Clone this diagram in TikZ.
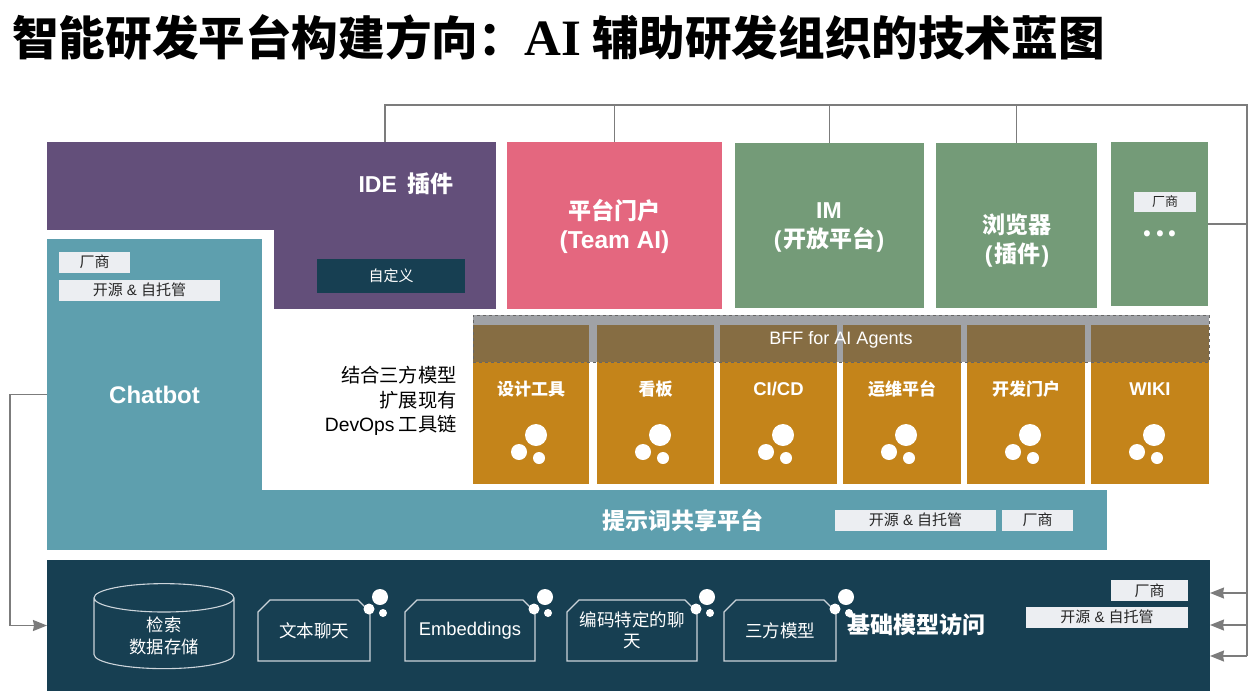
\documentclass[tikz,border=0pt]{standalone}
\usepackage{fontspec}
\setmainfont{Noto Sans CJK SC}
\newfontfamily\lat{Liberation Sans}
\newfontfamily\titlelat{Liberation Serif}
\usepackage{xcolor}
\usetikzlibrary{positioning, arrows.meta, shapes.geometric, shapes.misc}
\definecolor{idepurple}{HTML}{634F7A}
\definecolor{portalpink}{HTML}{E4677F}
\definecolor{imgreen}{HTML}{749B78}
\definecolor{botteal}{HTML}{5E9FAE}
\definecolor{toolorange}{HTML}{C4841A}
\definecolor{modeldark}{HTML}{173F52}
\definecolor{chipgrey}{HTML}{ECEEF2}
\definecolor{bffgrey}{HTML}{585C63}
\definecolor{linegrey}{HTML}{7C7C7C}
\newcommand{\fs}[1]{\fontsize{#1}{#1}\selectfont}
\newcommand{\ossname}{开源{\lat\ \&\ }自托管}

\begin{document}
\begin{tikzpicture}[
  x=1pt, y=-1pt,
  block/.style={inner sep=0pt, outer sep=0pt, text=white, align=center, font=\fs{23}\bfseries},
  chip/.style={fill=chipgrey, text=black!85, inner sep=0pt, outer sep=0pt, minimum height=21pt, font=\fs{15}},
  snip/.style={chamfered rectangle, chamfered rectangle corners={north west, north east},
    chamfered rectangle xsep=6pt, chamfered rectangle ysep=6pt, draw=chipgrey!85!modeldark,
    line width=1.1pt, text=white, align=center, inner sep=0pt, outer sep=0pt, minimum height=61pt, font=\fs{17.5}},
  collabel/.style={text=white, inner sep=0pt, font=\fs{17}\bfseries},
  link/.style={draw=linegrey, line width=1.5pt},
  feed/.style={link, -{Stealth[length=14pt, width=11pt, inset=1pt]}}
]
\useasboundingbox (0,0) rectangle (1258,694);

\node[inner sep=0pt, anchor=west, font=\fs{46.6}\bfseries] (title) at (12,37)
  {智能研发平台构建方向：{\fs{51}\titlelat AI} 辅助研发组织的技术蓝图};

% top row
\node[block, fill=idepurple, minimum width=448.5pt, minimum height=88pt, anchor=north west] (ide) at (47,142) {};
\node[block, fill=idepurple, minimum width=221.5pt, minimum height=80pt, anchor=north east] (idefoot) at (ide.south east |- 0,229) {};
\node[block] (idelabel) at (406,184) {{\lat IDE}\ \ 插件};
\node[block, fill=modeldark, minimum width=148pt, minimum height=34pt, font=\fs{15}] (custom) at (391,275.5) {自定义};
\node[block, fill=portalpink, minimum width=215pt, minimum height=167pt, anchor=north west] (portal) at (507,142) {};
\node[block] (portallabel) at (614.5,226.5) {平台门户\\[6pt]{\fs{24.5}\lat (Team AI)}};
\node[block, fill=imgreen, minimum width=189pt, minimum height=165pt, anchor=north west] (im) at (735,143) {};
\node[block] (imlabel) at (829,226.5) {{\lat IM}\vphantom{平}\\[6pt]{\lat(\kern1.5pt}开放平台{\lat\kern1.5pt)}};
\node[block, fill=imgreen, minimum width=161pt, minimum height=165pt, right=12pt of im] (browser) {};
\node[block] (browserlabel) at (1017,240.5) {浏览器\\[6pt]{\lat(\kern1.5pt}插件{\lat\kern1.5pt)}};
\node[block, fill=imgreen, minimum width=97pt, minimum height=164pt, anchor=north west] (more) at (1111,142) {};
\node[chip, minimum width=62pt, minimum height=20pt, font=\fs{13}] (vendortop) at (1165,202) {厂商};
\node[block, font=\fs{28}\bfseries] (moredots) at (1160,234) {.\kern3pt.\kern3pt.};

% tool columns
\foreach \i/\x/\w/\t in {1/473/116/设计工具, 2/597/117/看板, 3/720/117/{\fs{18.5}\lat CI/CD}, 4/843/118/运维平台, 5/967/118/开发门户, 6/1091/118/{\fs{18.5}\lat WIKI}} {
  \node[block, fill=toolorange, minimum width=\w pt, minimum height=159pt, anchor=north west] (col\i) at (\x,325) {};
  \node[collabel] (collabel\i) at ([yshift=-64pt]col\i.north) {\t};
  \fill[white] ([xshift=63pt,yshift=-110pt]col\i.north west) circle (11pt);
  \fill[white] ([xshift=46pt,yshift=-127pt]col\i.north west) circle (8pt);
  \fill[white] ([xshift=66pt,yshift=-133pt]col\i.north west) circle (6pt);
}
\node[draw=black!60, dashed, fill=bffgrey, fill opacity=.57, inner sep=0pt, outer sep=0pt,
  minimum width=736pt, minimum height=47pt, anchor=north west] (bff) at (473,315) {};
\node[text=white, inner sep=0pt, font=\fs{18}\lat] (bfflabel) at (841,339.5) {BFF for AI Agents};

\node[inner sep=0pt, align=right, anchor=east, font=\fs{19.3}] (thirdparty) at (457,401)
  {结合三方模型\\[5pt]扩展现有\\[5pt]{\lat DevOps} 工具链};

% chatbot and prompt platform
\node[block, fill=botteal, minimum width=215pt, minimum height=311pt, anchor=north west, font=\fs{24}\lat\bfseries] (chatbot) at (47,239) {Chatbot};
\node[block, fill=botteal, minimum width=846pt, minimum height=60pt, anchor=north west] (prompt) at (261,490) {};
\node[block] (promptlabel) at (683,520) {提示词共享平台};
\node[chip, minimum width=71pt, anchor=north west] (vendorbot) at (59,251.5) {厂商};
\node[chip, minimum width=161pt, below=7pt of vendorbot.south west, anchor=north west] (ossbot) {\ossname};
\node[chip, minimum width=161pt, anchor=north west] (ossprompt) at (835,509.5) {\ossname};
\node[chip, minimum width=71pt, right=6pt of ossprompt] (vendorprompt) {厂商};

% model access
\node[block, fill=modeldark, minimum width=1163pt, minimum height=131pt, anchor=north west] (model) at (47,560) {};
\node[cylinder, shape border rotate=90, shape aspect=.41, draw=chipgrey!85!modeldark, line width=1.1pt, text=white,
  align=center, inner sep=0pt, outer sep=0pt, minimum width=140pt, minimum height=85pt, font=\fs{17.3}] (store) at (164,633.5)
  {\phantom{检索}\\[5pt]\phantom{数据存储}};
\node[text=white, align=center, inner sep=0pt, font=\fs{17.3}] (storelabel) at (164,636) {检索\\[5pt]数据存储};
\node[snip, minimum width=112pt] (chat) at (314,630.5) {文本聊天};
\node[snip, minimum width=130pt, right=35pt of chat, font=\fs{18.4}\lat] (embed) {Embeddings};
\node[snip, minimum width=130pt, right=32pt of embed] (codegen) {编码特定的聊\\[4pt]天};
\node[snip, minimum width=112pt, right=27pt of codegen] (third) {三方模型};
\foreach \n in {chat, embed, codegen, third} {
  \coordinate (corner\n) at (\n.north -| \n.east);
  \fill[white] ([xshift=10pt,yshift=3pt]corner\n) circle (8pt);
  \fill[white] ([xshift=-1pt,yshift=-9pt]corner\n) circle (5.5pt);
  \fill[white] ([xshift=13pt,yshift=-13pt]corner\n) circle (4pt);
}
\node[block, font=\fs{23}\bfseries] (modellabel) at (916,625) {基础模型访问};
\node[chip, minimum width=77pt, anchor=north east] (vendormodel) at (1188,580) {厂商};
\node[chip, minimum width=162pt, anchor=north east] (ossmodel) at (1188,606.5) {\ossname};

% connectors
\coordinate (busstart) at (385,105);
\coordinate (busend) at (1247,105);
\coordinate (feedtop) at (1247,593);
\coordinate (feedmid) at (1247,625);
\coordinate (feedlow) at (1247,656);
\coordinate (loopleft) at (10,394.5);
\draw[link] (ide.north -| busstart) -- (busstart) -- (busend) -- (feedlow);
\foreach \n in {portal, im, browser} {
  \draw[link] (\n.north) -- (\n.north |- busend);
}
\draw[link] (more.east) -- (more.east -| busend);
\draw[feed] (feedtop) -- (feedtop -| model.east);
\draw[feed] (feedmid) -- (feedmid -| model.east);
\draw[feed] (feedlow) -- (feedlow -| model.east);
\draw[feed] (chatbot.west) -- (loopleft) |- (model.west);
\end{tikzpicture}
\end{document}
